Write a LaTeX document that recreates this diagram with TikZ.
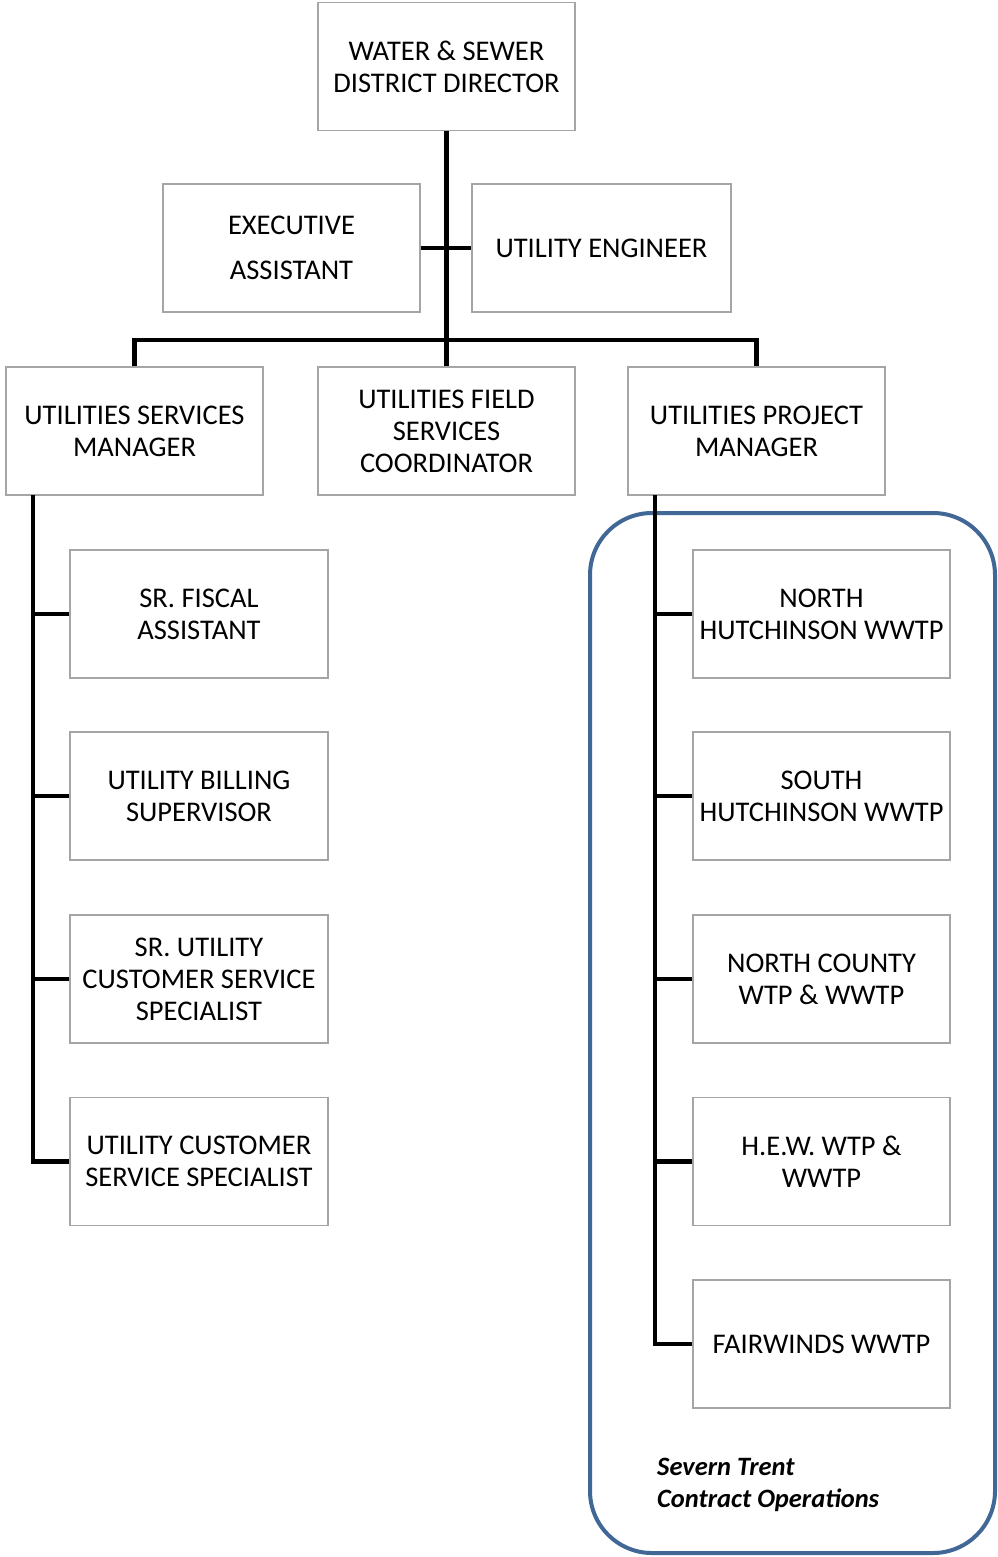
\documentclass[tikz,border=0pt]{standalone}
\usepackage{fontspec}
\setmainfont{Carlito}
\begin{document}
\begin{tikzpicture}[x=1pt,y=-1pt,
  post/.style={draw={rgb,255:red,165;green,165;blue,165},line width=1.3pt,fill=white,
    minimum width=257pt,minimum height=128pt,inner sep=0pt,align=center,
    font=\fontsize{28.5}{32}\selectfont},
  conn/.style={line width=4.5pt,black},
  grp/.style={draw={rgb,255:red,65;green,103;blue,150},line width=4pt,rounded corners=62pt}]
\fill[white] (0,0) rectangle (997,1557);
\useasboundingbox (0,0) rectangle (997,1557);
% group frame
\draw[grp] (590,513) rectangle (995,1553);
% nodes
\node[post] (dir) at (446.5,66.5) {WATER \& SEWER\\DISTRICT DIRECTOR};
\node[post] (ea) at (291.5,248) {EXECUTIVE\\[13pt]ASSISTANT};
\node[post,minimum width=259pt] (ue) at (601.5,248) {UTILITY ENGINEER};
\node[post] (usm) at (134.5,431) {UTILITIES SERVICES\\MANAGER};
\node[post] (fsc) at (446.5,431) {UTILITIES FIELD\\SERVICES\\COORDINATOR};
\node[post] (upm) at (756.5,431) {UTILITIES PROJECT\\MANAGER};
\node[post,minimum width=258pt] (l1) at (199,614) {SR. FISCAL\\ASSISTANT};
\node[post,minimum width=258pt] (l2) at (199,796) {UTILITY BILLING\\SUPERVISOR};
\node[post,minimum width=258pt] (l3) at (199,979) {SR. UTILITY\\CUSTOMER SERVICE\\SPECIALIST};
\node[post,minimum width=258pt] (l4) at (199,1161.5) {UTILITY CUSTOMER\\SERVICE SPECIALIST};
\node[post] (r1) at (821.5,614) {NORTH\\HUTCHINSON WWTP};
\node[post] (r2) at (821.5,796) {SOUTH\\HUTCHINSON WWTP};
\node[post] (r3) at (821.5,979) {NORTH COUNTY\\WTP \& WWTP};
\node[post] (r4) at (821.5,1161.5) {H.E.W. WTP \&\\WWTP};
\node[post] (r5) at (821.5,1344) {FAIRWINDS WWTP};
\node[anchor=north west,inner sep=0pt,align=left,font=\fontsize{26.5}{32}\selectfont\bfseries\itshape] (st) at (657,1458) {Severn Trent\\Contract Operations};
% connectors
\coordinate (bar) at (446.5,340);
\coordinate (spL) at (33,495);
\coordinate (spR) at (655,495);
\draw[conn] (dir.south) -- (fsc.north);
\draw[conn] (ea.east) -- (ue.west);
\draw[conn,line cap=butt] (usm.north) |- (bar) -| (upm.north);
\draw[conn] (spL) |- (l4.west);
\draw[conn] (l1.west) -- (l1.west -| spL);
\draw[conn] (l2.west) -- (l2.west -| spL);
\draw[conn] (l3.west) -- (l3.west -| spL);
\draw[conn] (spR) |- (r5.west);
\draw[conn] (r1.west) -- (r1.west -| spR);
\draw[conn] (r2.west) -- (r2.west -| spR);
\draw[conn] (r3.west) -- (r3.west -| spR);
\draw[conn] (r4.west) -- (r4.west -| spR);
\end{tikzpicture}
\end{document}
